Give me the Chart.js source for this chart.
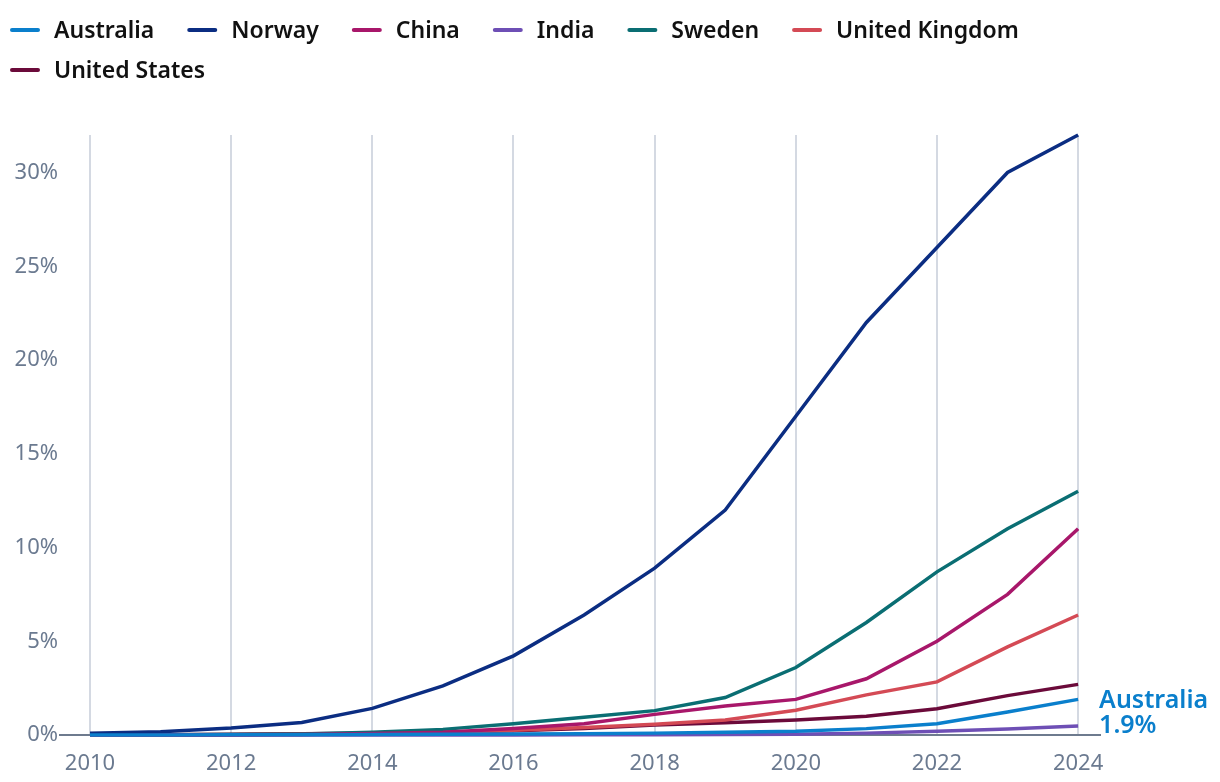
<!DOCTYPE html>
<html>
<head>
<meta charset="utf-8">
<script src="https://cdn.jsdelivr.net/npm/chart.js@4.4.1/dist/chart.umd.min.js"></script>
<style>
html,body{margin:0;padding:0;background:#fff;}
#wrap{width:1220px;height:782px;position:relative;}
</style>
</head>
<body>
<div id="wrap"><canvas id="c" width="1220" height="782"></canvas></div>
<script>
const years = [2010,2011,2012,2013,2014,2015,2016,2017,2018,2019,2020,2021,2022,2023,2024];
const xTickYears = [2010,2012,2014,2016,2018,2020,2022,2024];
const yTickValues = [0,5,10,15,20,25,30];

const seriesNames = ['Australia','Norway','China','India','Sweden','United Kingdom','United States'];
const australia = [0,0,0.01,0.02,0.03,0.04,0.05,0.07,0.1,0.15,0.2,0.34,0.6,1.23,1.9];
const norway    = [0.1,0.17,0.37,0.67,1.42,2.62,4.22,6.4,8.9,12,17,22,26,30,32];
const china     = [0,0,0.01,0.03,0.08,0.15,0.35,0.6,1.1,1.55,1.9,3.0,5.0,7.5,11];
const india     = [0,0,0,0,0,0,0,0.01,0.02,0.03,0.04,0.1,0.2,0.32,0.48];
const sweden    = [0,0.01,0.03,0.05,0.15,0.3,0.6,0.95,1.3,2.0,3.6,6.0,8.7,11,13];
const uk        = [0,0.01,0.02,0.05,0.07,0.12,0.25,0.4,0.57,0.8,1.32,2.14,2.83,4.7,6.4];
const us        = [0.01,0.02,0.04,0.07,0.1,0.15,0.22,0.35,0.53,0.65,0.8,1.0,1.4,2.1,2.7];
const seriesValues = [australia,norway,china,india,sweden,uk,us];
const seriesColors = ['#0a7fcc','#0b2d82','#a8176a','#6e4fb5','#0a6e73','#d44a55','#6b0a3a'];
const endLabelSeries = 'Australia';

const FONT = '"Noto Sans", "DejaVu Sans", sans-serif';

const legendPlugin = {
  id: 'customLegend',
  afterDraw(chart) {
    const ctx = chart.ctx;
    ctx.save();
    ctx.font = '600 23px ' + FONT;
    ctx.textBaseline = 'middle';
    let x = 10, y = 30;
    const sw = 30, gapText = 14, gapItem = 33, rowH = 40;
    chart.data.datasets.forEach(ds => {
      const w = sw + gapText + ctx.measureText(ds.label).width;
      if (x + w > chart.width - 5) { x = 10; y += rowH; }
      ctx.strokeStyle = ds.borderColor;
      ctx.lineWidth = 4;
      ctx.lineCap = 'round';
      ctx.beginPath();
      ctx.moveTo(x + 2, y);
      ctx.lineTo(x + sw - 2, y);
      ctx.stroke();
      ctx.fillStyle = '#111111';
      ctx.textAlign = 'left';
      ctx.fillText(ds.label, x + sw + gapText, y + 1);
      x += w + gapItem;
    });
    ctx.restore();
  }
};

const endLabelPlugin = {
  id: 'endLabel',
  afterDatasetsDraw(chart) {
    const idx = chart.data.datasets.findIndex(d => d.label === endLabelSeries);
    if (idx < 0) return;
    const meta = chart.getDatasetMeta(idx);
    const pt = meta.data[meta.data.length - 1];
    const vals = seriesValues[seriesNames.indexOf(endLabelSeries)];
    const v = vals[vals.length - 1];
    const ctx = chart.ctx;
    ctx.save();
    ctx.font = '600 25px ' + FONT;
    ctx.fillStyle = seriesColors[idx];
    ctx.textAlign = 'left';
    ctx.textBaseline = 'middle';
    ctx.fillText(endLabelSeries, pt.x + 21, pt.y + 1);
    ctx.fillText(v.toFixed(1) + '%', pt.x + 21, pt.y + 26);
    ctx.restore();
  }
};

const datasets = seriesNames.map((name, i) => ({
  label: name,
  data: years.map((yr, j) => ({x: yr, y: seriesValues[i][j]})),
  borderColor: seriesColors[i],
  backgroundColor: seriesColors[i],
  borderWidth: 3.5,
  pointRadius: 0,
  tension: 0,
  fill: false,
  clip: false
}));

new Chart(document.getElementById('c'), {
  type: 'line',
  data: { datasets },
  plugins: [legendPlugin, endLabelPlugin],
  options: {
    responsive: false,
    animation: false,
    devicePixelRatio: 1,
    layout: { padding: { top: 135, right: 120, left: 0, bottom: 0 } },
    plugins: { legend: { display: false }, tooltip: { enabled: false } },
    scales: {
      x: {
        type: 'linear',
        min: 2009.575,
        max: 2024.31,
        afterBuildTicks(scale) { scale.ticks = xTickYears.map(v => ({value: v})); },
        afterFit(scale) { scale.height = 47; },
        grid: { display: true, color: '#d4d9e2', lineWidth: 2, drawTicks: false },
        border: { display: true, color: '#6e7b8e', width: 2 },
        ticks: {
          padding: 16,
          color: '#6b7a90',
          font: { family: FONT, size: 22, weight: '400' },
          callback: v => String(v),
          maxRotation: 0
        }
      },
      y: {
        min: 0,
        max: 32,
        afterBuildTicks(scale) { scale.ticks = yTickValues.map(v => ({value: v})); },
        afterFit(scale) { scale.width = 60; },
        grid: { display: false, drawTicks: false },
        border: { display: false },
        ticks: {
          padding: 2,
          color: '#6b7a90',
          font: { family: FONT, size: 22, weight: '400' },
          callback: v => v + '%'
        }
      }
    }
  }
});
</script>
</body>
</html>
